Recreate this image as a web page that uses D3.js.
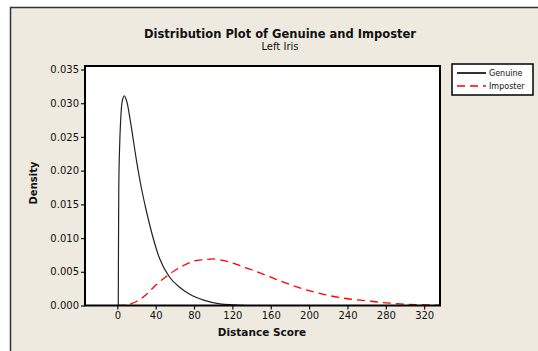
<!DOCTYPE html>
<html>
<head>
<meta charset="utf-8">
<script src="https://cdn.jsdelivr.net/npm/d3@7"></script>
<style>
  body { margin: 0; background: #fff; }
  text { font-family: "DejaVu Sans", Verdana, sans-serif; fill: #111; }
</style>
</head>
<body>
<div id="chart"></div>
<script>
const W = 538, H = 351;

// density curves
const genuineX = [1, 1.2, 1.5, 2.5, 3.5, 5, 7.3, 10, 14, 20, 25, 30, 37, 44, 54, 65, 75, 90, 107, 120, 132];
const genuineY = [0, 0.008, 0.017, 0.024, 0.0275, 0.0302, 0.0311, 0.0302, 0.027, 0.0215, 0.0175, 0.0142, 0.0102, 0.0070, 0.0043, 0.0027, 0.0017, 0.0008, 0.00025, 0.0001, 0.00002];
const imposterX = [0, 10, 20, 30, 40, 50, 60, 70, 80, 90, 100, 110, 120, 130, 140, 160, 180, 200, 220, 240, 260, 280, 300, 320, 336];
const imposterY = [0, 0.0001, 0.0006, 0.0016, 0.0030, 0.0042, 0.0052, 0.0060, 0.0066, 0.0068, 0.0069, 0.0067, 0.0063, 0.0058, 0.0053, 0.0042, 0.0031, 0.0022, 0.0015, 0.0010, 0.0007, 0.0004, 0.0002, 0.0001, 0.00005];

const xTicks = [0, 40, 80, 120, 160, 200, 240, 280, 320];
const yTicks = [0, 0.005, 0.010, 0.015, 0.020, 0.025, 0.030, 0.035];
const seriesNames = ["Genuine", "Imposter"];

const plot = { left: 85, right: 440, top: 66, bottom: 305.5 };

const svg = d3.select("#chart").append("svg")
    .attr("width", W).attr("height", H);

// outer frame
svg.append("rect")
    .attr("x", 10.5).attr("y", 7.5)
    .attr("width", W).attr("height", H)
    .attr("fill", "#eeeae0")
    .attr("stroke", "#333").attr("stroke-width", 1.5);

let x = d3.scaleLinear()
    .domain([-33.7, 336.5])
    .range([plot.left, plot.right]);
let y = d3.scaleLinear()
    .domain([0, 0.035 * (plot.bottom - plot.top) / (plot.bottom - 69.5)])
    .range([plot.bottom, plot.top]);

svg.append("rect")
    .attr("x", plot.left).attr("y", plot.top)
    .attr("width", plot.right - plot.left)
    .attr("height", plot.bottom - plot.top)
    .attr("fill", "#fff");

svg.append("clipPath").attr("id", "clip")
    .append("rect")
    .attr("x", plot.left).attr("y", plot.top)
    .attr("width", plot.right - plot.left)
    .attr("height", plot.bottom - plot.top);

let line = d3.line()
    .x(d => x(d[0]))
    .y(d => y(d[1]))
    .curve(d3.curveMonotoneX);

let curves = svg.append("g").attr("clip-path", "url(#clip)");

curves.append("path")
    .datum(genuineX.map((v, i) => [v, genuineY[i]]))
    .attr("d", line)
    .attr("fill", "none")
    .attr("stroke", "#222")
    .attr("stroke-width", 1.2);

curves.append("path")
    .datum(imposterX.map((v, i) => [v, imposterY[i]]))
    .attr("d", line)
    .attr("fill", "none")
    .attr("stroke", "#f00")
    .attr("stroke-width", 1.3)
    .attr("stroke-dasharray", "8,5");

// axes
let xAxis = svg.append("g")
    .attr("transform", `translate(0,${plot.bottom})`)
    .call(d3.axisBottom(x).tickValues(xTicks).tickSize(4).tickPadding(2));
let yAxis = svg.append("g")
    .attr("transform", `translate(${plot.left},0)`)
    .call(d3.axisLeft(y).tickValues(yTicks).tickSize(4).tickPadding(2)
        .tickFormat(d3.format(".3f")));

[xAxis, yAxis].forEach(a => {
    a.select(".domain").remove();
    a.selectAll("line").attr("stroke", "#111").attr("stroke-width", 1.2);
    a.selectAll("text")
        .style("font-family", "DejaVu Sans")
        .style("font-size", "10px")
        .attr("fill", "#111");
});

// plot border
svg.append("rect")
    .attr("x", plot.left).attr("y", plot.top)
    .attr("width", plot.right - plot.left)
    .attr("height", plot.bottom - plot.top)
    .attr("fill", "none")
    .attr("stroke", "#000").attr("stroke-width", 2);

// titles
svg.append("text")
    .attr("x", 280).attr("y", 38)
    .attr("text-anchor", "middle")
    .style("font-size", "11.5px").style("font-weight", "bold")
    .text("Distribution Plot of Genuine and Imposter");
svg.append("text")
    .attr("x", 280).attr("y", 50)
    .attr("text-anchor", "middle")
    .style("font-size", "10px")
    .text("Left Iris");

svg.append("text")
    .attr("x", 262).attr("y", 336)
    .attr("text-anchor", "middle")
    .style("font-size", "10.5px").style("font-weight", "bold")
    .text("Distance Score");

svg.append("text")
    .attr("transform", "translate(37,183) rotate(-90)")
    .attr("text-anchor", "middle")
    .style("font-size", "10px").style("font-weight", "bold")
    .text("Density");

// legend
let legend = svg.append("g").attr("transform", "translate(452,64)");
legend.append("rect")
    .attr("width", 81).attr("height", 31)
    .attr("fill", "#fff")
    .attr("stroke", "#000").attr("stroke-width", 1.5);
let items = legend.selectAll("g.item").data(seriesNames).enter()
    .append("g").attr("class", "item")
    .attr("transform", (d, i) => `translate(0,${9 + i * 13})`);
items.append("line")
    .attr("x1", 5).attr("x2", 34)
    .attr("stroke", (d, i) => i === 0 ? "#000" : "#f00")
    .attr("stroke-width", (d, i) => i === 0 ? 1.6 : 1.4)
    .attr("stroke-dasharray", (d, i) => i === 0 ? null : "8,5");
items.append("text")
    .attr("x", 37).attr("y", 3)
    .style("font-size", "8px")
    .text(d => d);
</script>
</body>
</html>
